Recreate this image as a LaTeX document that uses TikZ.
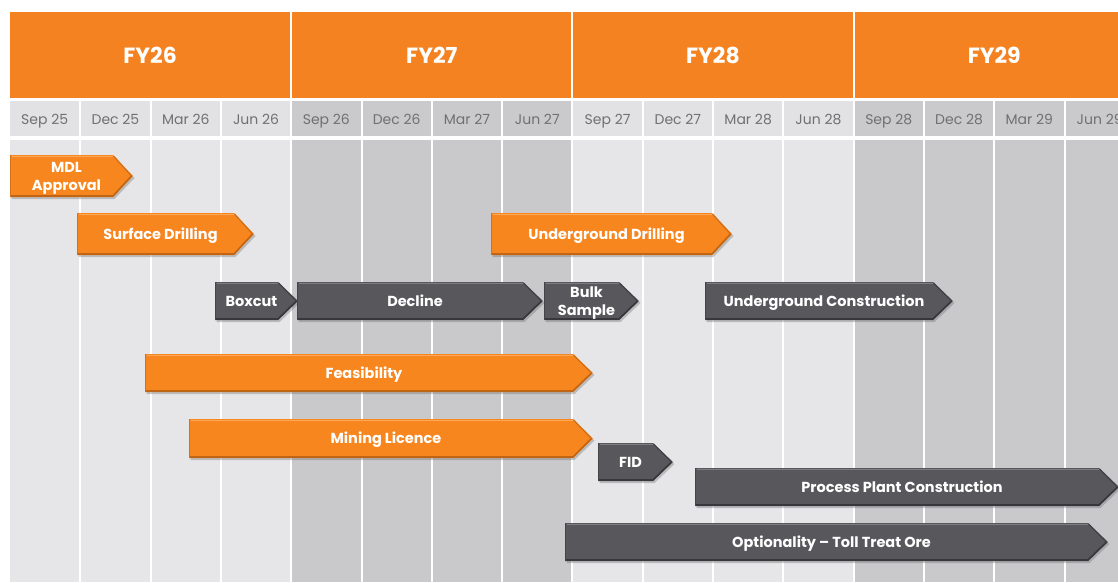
\documentclass[tikz,border=0pt]{standalone}
\usepackage{fontspec}
\setmainfont{Poppins}
\definecolor{fyorange}{HTML}{F58220}
\definecolor{colLight}{HTML}{E6E6E8}
\definecolor{colDark}{HTML}{C9C9CB}
\definecolor{hdrLight}{HTML}{E2E2E4}
\definecolor{hdrDark}{HTML}{CACACC}
\definecolor{monthtext}{HTML}{707072}
\definecolor{ormain}{HTML}{F7861F}
\definecolor{orlight}{HTML}{FBA85A}
\definecolor{ordark}{HTML}{BF6514}
\definecolor{dkmain}{HTML}{58575C}
\definecolor{dklight}{HTML}{7E7D82}
\definecolor{dkdark}{HTML}{38373B}
\definecolor{shadowc}{HTML}{6A6A6A}

% one Gantt bar: [#1] extra label options, #2 colour set (or/dk), #3 name,
% #4 left x, #5 tip x, #6 top y, #7 bottom y, #8 label
\newcommand\task[8][]{%
  \pgfmathsetmacro\tb{#5-20}%
  \pgfmathsetmacro\tm{(#6+#7)/2}%
  \pgfmathsetmacro\tc{(#4+#5-10)/2}%
  \fill[shadowc,opacity=.35,shift={(1.5,2)}]
    (#4,#6) -- (\tb,#6) -- (#5,\tm) -- (\tb,#7) -- (#4,#7) -- cycle;
  \fill[#2main] (#4,#6) -- (\tb,#6) -- (#5,\tm) -- (\tb,#7) -- (#4,#7) -- cycle;
  \draw[#2light,line width=1.6] ({#4+1.5},{#6+1.6}) -- ({\tb+0.5},{#6+1.6});
  \draw[#2dark,line width=1.6,line join=round]
    ({#4+1},{#7-1}) -- (\tb,{#7-1}) -- ({#5-1.5},\tm);
  \draw[#2dark!70!#2main,line width=1.2] ({\tb+0.5},{#6+1}) -- ({#5-1.5},\tm);
  \draw[#2dark!60!#2main,line width=0.8] ({#4+0.4},#6) -- ({#4+0.4},#7);
  \node[tasktext,#1] (#3) at (\tc,\tm) {#8};
}

\tikzset{
  tasktext/.style={text=white,inner sep=0pt,align=center,
    text height=10.5pt,text depth=0pt,
    font=\fontsize{14.5}{17}\selectfont\bfseries},
  twoline/.style={text height=29pt,font=\fontsize{14.5}{18.5}\selectfont\bfseries},
  fytext/.style={text=white,inner sep=0pt,text height=15.4pt,text depth=0pt,
    font=\fontsize{22}{24}\selectfont\bfseries},
  monthlabel/.style={text=monthtext,inner sep=0pt,text height=9.8pt,text depth=0pt,
    font=\fontsize{14}{16}\selectfont}
}

\begin{document}
\begin{tikzpicture}[x=1pt,y=-1pt]
\useasboundingbox (0,0) rectangle (1118,582);
\clip (0,0) rectangle (1118,582);
\fill[white] (0,0) rectangle (1118,582);

% quarter columns with month headers
\foreach \m [count=\j from 0] in {Sep 25,Dec 25,Mar 26,Jun 26,Sep 26,Dec 26,Mar 27,Jun 27,
    Sep 27,Dec 27,Mar 28,Jun 28,Sep 28,Dec 28,Mar 29,Jun 29}{
  \pgfmathsetmacro\xa{10+70.3*\j+min(\j,1)}
  \pgfmathsetmacro\xb{10+70.3*(\j+1)-1}
  \pgfmathsetmacro\xc{(\xa+\xb)/2}
  \pgfmathtruncatemacro\yr{mod(floor(\j/4),2)}
  \ifnum\yr=0
    \fill[hdrLight] (\xa,101) rectangle (\xb,136);
    \fill[colLight] (\xa,140) rectangle (\xb,582);
  \else
    \fill[hdrDark] (\xa,101) rectangle (\xb,136);
    \fill[colDark] (\xa,140) rectangle (\xb,582);
  \fi
  \node[monthlabel] (m\j) at (\xc,120) {\m};
}

% financial year bars
\foreach \f [count=\k from 0] in {FY26,FY27,FY28,FY29}{
  \pgfmathsetmacro\xa{10+281.2*\k+min(\k,1)}
  \pgfmathsetmacro\xb{10+281.2*(\k+1)-1}
  \pgfmathsetmacro\xc{(\xa+\xb)/2}
  \fill[fyorange] (\xa,12) rectangle (\xb,98);
  \node[fytext] (fy\k) at (\xc,56) {\f};
}

% activities
\task[twoline]{or}{mdl}{10}{133}{155}{197}{MDL\\Approval}
\task{or}{surf}{77}{254}{213}{255}{Surface Drilling}
\task{or}{ugd}{491}{732}{213}{255}{Underground Drilling}
\task{dk}{box}{215}{298}{282}{320}{Boxcut}
\task{dk}{dec}{297}{543}{282}{320}{Decline}
\task[twoline]{dk}{bulk}{544}{639}{282}{320}{Bulk\\Sample}
\task{dk}{ugc}{705}{953}{282}{320}{Underground Construction}
\task{or}{feas}{145}{593}{354}{392}{Feasibility}
\task{or}{ml}{189}{593}{419}{458}{Mining Licence}
\task{dk}{fid}{598}{673}{443}{481}{FID}
\task{dk}{ppc}{695}{1119}{468}{506}{Process Plant Construction}
\task{dk}{opt}{565}{1108}{523}{561}{Optionality – Toll Treat Ore}
\end{tikzpicture}
\end{document}
